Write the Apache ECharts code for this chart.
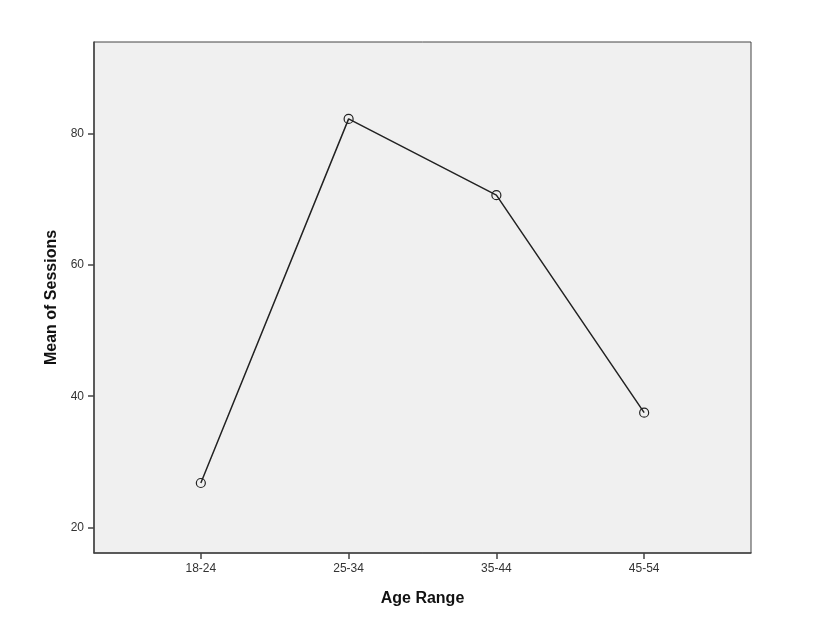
<!DOCTYPE html>
<html>
<head>
<meta charset="utf-8">
<script src="https://cdn.jsdelivr.net/npm/echarts@6/dist/echarts.min.js"></script>
<style>
  html, body { margin: 0; padding: 0; background: #fff; }
  #chart { width: 838px; height: 626px; }
</style>
</head>
<body>
<div id="chart"></div>
<script>
// 年龄段和平均会话数
const ageRanges = ['18-24', '25-34', '35-44', '45-54']
const meanSessions = [26.8, 82.2, 70.6, 37.5]
const yTicks = [20, 40, 60, 80]
const xTicks = [0, 1, 2, 3]

const myChart = echarts.init(document.getElementById('chart'))

const option = {
  animation: false,
  textStyle: { fontFamily: 'Liberation Sans, Arial, sans-serif' },
  grid: {
    left: 94,
    right: 87,
    top: 42,
    bottom: 73,
    show: true,
    backgroundColor: '#f0f0f0',
    borderColor: '#444',
    borderWidth: 1,
  },
  xAxis: {
    type: 'value',
    min: -0.723,
    max: 3.723,
    name: 'Age Range',
    nameLocation: 'middle',
    nameGap: 38,
    nameTextStyle: { fontSize: 16, fontWeight: 'bold', color: '#111' },
    axisLine: { show: true, onZero: false, lineStyle: { color: '#444', width: 1.5 } },
    axisTick: { show: true, length: 6, customValues: xTicks, lineStyle: { color: '#444', width: 1.5 } },
    axisLabel: {
      customValues: xTicks,
      margin: 10,
      fontSize: 12,
      color: '#333',
      formatter: (v) => ageRanges[Math.round(v)],
    },
    splitLine: { show: false },
  },
  yAxis: {
    type: 'value',
    min: 16.15,
    max: 93.9,
    name: 'Mean of Sessions',
    nameLocation: 'middle',
    nameGap: 34,
    nameTextStyle: { fontSize: 16, fontWeight: 'bold', color: '#111' },
    axisLine: { show: true, onZero: false, lineStyle: { color: '#444', width: 1.5 } },
    axisTick: { show: true, length: 6, customValues: yTicks, lineStyle: { color: '#444', width: 1.5 } },
    axisLabel: { customValues: yTicks, margin: 10, fontSize: 12, color: '#333' },
    splitLine: { show: false },
  },
  series: [
    {
      type: 'line',
      data: meanSessions.map((v, i) => [i, v]),
      symbol: 'circle',
      symbolSize: 9,
      lineStyle: { color: '#222', width: 1.5 },
      itemStyle: { color: 'rgba(0,0,0,0)', borderColor: '#222', borderWidth: 1.2 },
    },
  ],
}

myChart.setOption(option)
</script>
</body>
</html>
